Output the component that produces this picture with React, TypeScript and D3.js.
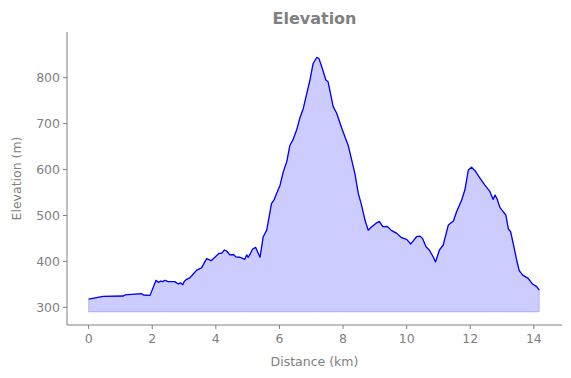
import React from "react";
import * as d3 from "d3";

const distanceKm: number[] = [0, 0.46, 1.09, 1.14, 1.67, 1.72, 1.93, 2.12, 2.19, 2.27, 2.33, 2.4, 2.5, 2.71, 2.82, 2.89, 2.96, 3.01, 3.08, 3.19, 3.29, 3.4, 3.55, 3.71, 3.85, 3.97, 4.1, 4.18, 4.27, 4.34, 4.44, 4.55, 4.63, 4.76, 4.84, 4.91, 4.97, 5.02, 5.09, 5.16, 5.25, 5.39, 5.49, 5.6, 5.75, 5.83, 5.91, 6.02, 6.12, 6.23, 6.33, 6.42, 6.54, 6.64, 6.75, 6.86, 6.96, 7.06, 7.17, 7.24, 7.33, 7.46, 7.53, 7.69, 7.8, 7.96, 8.06, 8.16, 8.26, 8.37, 8.48, 8.58, 8.69, 8.79, 8.9, 8.97, 9.06, 9.14, 9.25, 9.32, 9.39, 9.53, 9.69, 9.84, 10.0, 10.13, 10.19, 10.31, 10.42, 10.5, 10.61, 10.71, 10.82, 10.91, 11.03, 11.15, 11.31, 11.47, 11.57, 11.73, 11.83, 11.94, 12.04, 12.15, 12.31, 12.46, 12.62, 12.72, 12.78, 12.85, 12.93, 13.04, 13.12, 13.2, 13.27, 13.35, 13.46, 13.54, 13.65, 13.82, 13.96, 14.09, 14.17];
const elevationM: number[] = [318, 324, 324.6, 327, 329.6, 326.8, 326, 358.8, 354.4, 357, 356, 359, 356, 356, 350.7, 353.6, 349, 357, 361, 364.5, 372.5, 381, 386, 406, 401.5, 409, 417.6, 417.6, 424.8, 422.6, 414, 415, 410, 409, 406.7, 404.5, 414, 409, 417.6, 427, 430.6, 409, 453.8, 468, 526, 533.7, 548, 566, 595, 617, 653, 664, 686, 711.6, 733, 766, 795, 831, 844, 842, 824, 795, 791, 737, 722.5, 690, 671.5, 653, 624.5, 592, 548, 523, 490, 468, 475.5, 479, 484, 487, 475.5, 475.5, 476, 467, 461, 451.6, 448, 438, 443, 453.7, 455, 450, 432, 424.8, 411.7, 399, 424.8, 435.7, 479, 488, 508, 533.7, 555.4, 599, 605, 597.5, 581, 566, 551.7, 535, 544.5, 535, 517.8, 508, 501, 470.5, 464.6, 439, 403, 379.7, 370, 363, 350.7, 345, 337.7];
const baseElevation = 290;
const xTicks: number[] = [0, 2, 4, 6, 8, 10, 12, 14];
const yTicks: number[] = [300, 400, 500, 600, 700, 800];
const titleText = "Elevation";
const xLabel = "Distance (km)";
const yLabel = "Elevation (m)";

const W = 571;
const H = 378;
const left = 67;
const right = 562;
const top = 32;
const bottom = 325;
const gray = "#808080";
const font = "DejaVu Sans, sans-serif";

export default function App() {
  const data = distanceKm.map((d, i) => ({ x: d, y: elevationM[i] }));
  const x = d3.scaleLinear().domain([-0.68, 14.885]).range([left, right]);
  const y = d3.scaleLinear().domain([261.5, 899.5]).range([bottom, top]);
  const area = d3
    .area<{ x: number; y: number }>()
    .x((d) => x(d.x))
    .y0(() => y(baseElevation))
    .y1((d) => y(d.y));
  const line = d3
    .line<{ x: number; y: number }>()
    .x((d) => x(d.x))
    .y((d) => y(d.y));

  return (
    <svg
      width={W}
      height={H}
      style={{ position: "absolute", left: 0, top: 0, background: "#fff" }}
      fontFamily={font}
    >
      <path d={area(data) || ""} fill="rgba(0,0,255,0.2)" stroke="rgba(0,0,255,0.2)" strokeWidth={1} />
      <path d={line(data) || ""} fill="none" stroke="#0000ff" strokeWidth={1.3} strokeLinejoin="round" />
      <line x1={left} x2={left} y1={top} y2={bottom} stroke={gray} strokeWidth={1} />
      <line x1={left} x2={right} y1={bottom} y2={bottom} stroke={gray} strokeWidth={1} />
      {xTicks.map((t) => (
        <g key={"x" + t}>
          <line x1={x(t)} x2={x(t)} y1={bottom} y2={bottom + 4} stroke={gray} strokeWidth={1} />
          <text x={x(t)} y={bottom + 18} textAnchor="middle" fontSize={12.5} fill={gray}>
            {t}
          </text>
        </g>
      ))}
      {yTicks.map((t) => (
        <g key={"y" + t}>
          <line x1={left - 4} x2={left} y1={y(t)} y2={y(t)} stroke={gray} strokeWidth={1} />
          <text x={left - 7} y={y(t) + 4.5} textAnchor="end" fontSize={12.5} fill={gray}>
            {t}
          </text>
        </g>
      ))}
      <text x={(left + right) / 2} y={366} textAnchor="middle" fontSize={12.5} fill={gray}>
        {xLabel}
      </text>
      <text
        transform={`translate(21, ${(top + bottom) / 2}) rotate(-90)`}
        textAnchor="middle"
        fontSize={12.5}
        fill={gray}
      >
        {yLabel}
      </text>
      <text x={(left + right) / 2} y={24} textAnchor="middle" fontSize={16} fontWeight="bold" fill={gray}>
        {titleText}
      </text>
    </svg>
  );
}
